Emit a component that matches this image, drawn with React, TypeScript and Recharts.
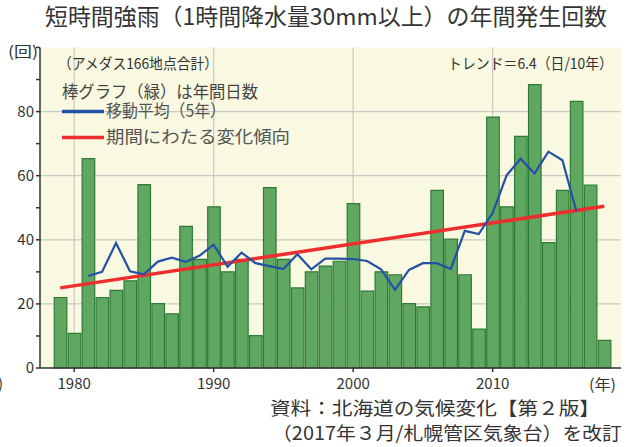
import React from 'react';
import { ComposedChart, Bar, Line, XAxis, YAxis, CartesianGrid } from 'recharts';

const years = [1979,1980,1981,1982,1983,1984,1985,1986,1987,1988,1989,1990,1991,1992,1993,1994,1995,1996,1997,1998,1999,2000,2001,2002,2003,2004,2005,2006,2007,2008,2009,2010,2011,2012,2013,2014,2015,2016,2017,2018];
const counts = [22,10.8,65.3,22,24.2,27.2,57.2,20.1,16.9,44.2,33.9,50.3,30,33.9,10.1,56.3,33.9,25,30,31.8,33.3,51.3,24,30,29.1,20.1,19.1,55.4,40.2,29.1,12.1,78.3,50.3,72.3,88.4,39.1,55.4,83.2,57.1,8.6];
const maYears = [1981,1982,1983,1984,1985,1986,1987,1988,1989,1990,1991,1992,1993,1994,1995,1996,1997,1998,1999,2000,2001,2002,2003,2004,2005,2006,2007,2008,2009,2010,2011,2012,2013,2014,2015,2016];
const movingAvg = [28.7,30.0,39.0,30.2,29.2,33.2,34.4,33.1,35.1,38.5,31.6,36.0,32.7,31.8,30.9,35.5,30.8,34.1,34.1,34.0,33.4,30.8,24.4,30.6,32.7,32.7,30.9,42.8,41.8,48.4,60.1,65.3,60.7,67.5,64.8,48.9];
const trendYears = [1979, 2018];
const trendValues = [25.0, 50.5];
const xTicks = [1980, 1990, 2000, 2010];
const yTicks = [0,10,20,30,40,50,60,70,80,90,100];
const yLabels = [0,20,40,60,80];

const data = years.map((y, i) => {
  const mi = maYears.indexOf(y);
  const ti = trendYears.indexOf(y);
  return {
    year: y,
    count: counts[i],
    ma: mi >= 0 ? movingAvg[mi] : null,
    trend: ti >= 0 ? trendValues[ti] : null,
  };
});

const FONT = "'Noto Sans CJK JP', 'Noto Sans', sans-serif";
const TXT = '#333';

const YTick = (props: any) => {
  const { x, y, payload } = props;
  if (!yLabels.includes(payload.value)) return null;
  return (
    <text x={x} y={y} dy={5} textAnchor="end" fontSize={15} fill={TXT} fontFamily={FONT}>
      {payload.value}
    </text>
  );
};

const T = (p: { x: number; y: number; w: number; s: number; c?: string; children: string }) => (
  <text x={p.x} y={p.y} fontSize={p.s} fill={p.c || TXT} textLength={p.w} lengthAdjust="spacingAndGlyphs">
    {p.children}
  </text>
);

export default function App() {
  return (
    <div style={{ position: 'absolute', left: 0, top: 0, width: 629, height: 447, background: '#fff' }}>
      <ComposedChart
        width={629}
        height={447}
        data={data}
        margin={{ top: 47.5, right: 8, bottom: 49, left: 10 }}
        barCategoryGap={0}
        barGap={0}
      >
        <CartesianGrid
          fill="#f9f8e0"
          stroke="#c9c9c4"
          strokeWidth={1.2}
          horizontalValues={[20, 40, 60, 80]}
          verticalValues={xTicks}
        />
        <XAxis
          dataKey="year"
          type="number"
          domain={[1977.55, 2019.2]}
          ticks={xTicks}
          allowDataOverflow
          tickSize={4}
          tickMargin={6}
          height={30}
          stroke="#333"
          strokeWidth={1.5}
          tick={{ fontSize: 15, fill: TXT, fontFamily: FONT }}
        />
        <XAxis xAxisId="top" orientation="top" type="number" domain={[1977.55, 2019.2]} height={0} tick={false} tickLine={false} stroke="#555" />
        <YAxis
          type="number"
          domain={[0, 100]}
          ticks={yTicks}
          interval={0}
          width={30}
          tickSize={4}
          stroke="#333"
          strokeWidth={1.5}
          tick={<YTick />}
        />
        <YAxis yAxisId="right" orientation="right" domain={[0, 100]} width={0} tick={false} tickLine={false} stroke="#555" />
        <Bar dataKey="count" barSize={14} fill="#60a862" stroke="#2e7a36" strokeWidth={1.2} isAnimationActive={false} />
        <Line dataKey="trend" stroke="#ee2e2e" strokeWidth={3.5} dot={false} connectNulls isAnimationActive={false} />
        <Line dataKey="ma" stroke="#2450a5" strokeWidth={2.2} dot={false} isAnimationActive={false} />
      </ComposedChart>
      <svg width={629} height={447} style={{ position: 'absolute', left: 0, top: 0, pointerEvents: 'none' }} fontFamily={FONT}>
        <T x={45} y={25} w={562} s={22.5}>短時間強雨（1時間降水量30mm以上）の年間発生回数</T>
        <T x={8} y={57} w={30} s={15}>(回)</T>
        <text x={-2} y={389} fontSize={15} fill={TXT}>)</text>
        <T x={58} y={69} w={160} s={15}>（アメダス166地点合計）</T>
        <T x={448} y={69} w={165} s={15}>トレンド＝6.4（日/10年）</T>
        <T x={62} y={98} w={196} s={16.5} c="#444">棒グラフ（緑）は年間日数</T>
        <line x1={62} x2={104} y1={111.5} y2={111.5} stroke="#2450a5" strokeWidth={3.5} />
        <T x={106} y={117} w={120} s={17} c="#555">移動平均（5年）</T>
        <line x1={62} x2={104} y1={137.5} y2={137.5} stroke="#ee2e2e" strokeWidth={3.5} />
        <T x={106} y={143} w={184} s={17.5} c="#555">期間にわたる変化傾向</T>
        <T x={589} y={390} w={27} s={15}>(年)</T>
        <T x={270} y={414.5} w={330} s={18.5}>資料：北海道の気候変化【第２版】</T>
        <T x={272} y={440} w={350} s={18.5}>（2017年３月/札幌管区気象台）を改訂</T>
      </svg>
    </div>
  );
}
